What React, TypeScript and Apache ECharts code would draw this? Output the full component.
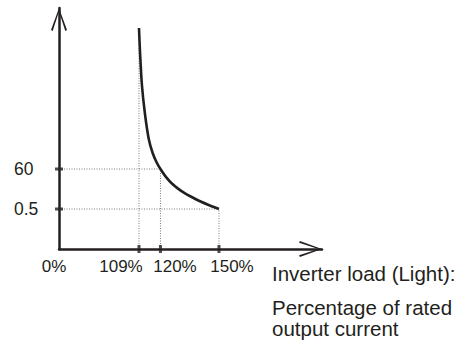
import React, { useEffect, useRef } from 'react';
import * as echarts from 'echarts';

// Inverter load axis (percentage of rated output current)
const loadMin = 68; // axis origin (drawn as 0%, broken axis)
const loadMax = 202.8;
const loadTickValues = [109, 120, 150];
const loadTickLabels = ['109%', '120%', '150%'];
const originLabel = '0%';

// Time axis (schematic levels) and its labels
const timeMax = 6.025;
const timeLevels = [1, 2];
const timeLabels = ['0.5', '60'];

// Overload curve (load %, time level)
const curveLoad = [109, 109.5, 110.5, 112, 114, 116, 118, 120, 123, 126, 129, 132, 136, 140, 145, 150];
const curveLevel = [5.525, 4.95, 4.1, 3.4, 2.75, 2.4, 2.17, 2.0, 1.79, 1.63, 1.51, 1.41, 1.3, 1.2, 1.095, 1.0];

const axisTitleFirst = 'Inverter load (Light):';
const axisTitleRest = ['Percentage of rated', 'output current'];

const INK = '#231f20';
const DOT = '#7a7a7a';
const FONT = '"Liberation Sans", Arial, sans-serif';

const chevron = 'path://M8,0 L16,22 L14.3,22.8 L8,3.5 L1.7,22.8 L0,22 Z';

export default function App() {
  const ref = useRef<HTMLDivElement>(null);
  useEffect(() => {
    if (!ref.current) return;
    const chart = echarts.init(ref.current, undefined, { renderer: 'svg' });

    const curve = curveLoad.map((x, i) => [x, curveLevel[i]]);
    const levelAt = (x: number) => curveLevel[curveLoad.indexOf(x)];
    const loadAtLevel = (y: number) => curveLoad[curveLevel.indexOf(y)];

    const dotted = { color: DOT, width: 1, type: [1, 1.5] };
    const guideSeries: any[] = [];
    loadTickValues.forEach((x) => {
      guideSeries.push({
        type: 'line',
        data: [[x, 0], [x, levelAt(x)]],
        symbol: 'none',
        lineStyle: dotted,
        z: 1,
        silent: true,
      });
    });
    timeLevels.forEach((y) => {
      guideSeries.push({
        type: 'line',
        data: [[loadMin, y], [loadAtLevel(y), y]],
        symbol: 'none',
        lineStyle: dotted,
        z: 1,
        silent: true,
      });
    });

    const xLabelShift = [-5, -18, 14.5, 13];
    const xLabelValues = [loadMin, ...loadTickValues];
    const xLabelTexts = [originLabel, ...loadTickLabels];
    const rich: Record<string, any> = {};
    xLabelValues.forEach((_, i) => {
      const s = xLabelShift[i];
      rich['l' + i] = {
        fontSize: 17,
        fontFamily: FONT,
        color: INK,
        padding: s >= 0 ? [0, 0, 0, 2 * s] : [0, -2 * s, 0, 0],
      };
    });

    const axisLine = {
      show: true,
      onZero: false,
      lineStyle: { color: INK, width: 2.5 },
      symbol: ['none', chevron],
      symbolSize: [16, 23],
      symbolOffset: [0, -11.5],
    };

    const option: any = {
      animation: false,
      grid: { left: 59, top: 8, width: 263, height: 241, containLabel: false, outerBoundsMode: 'none' },
      xAxis: {
        type: 'value',
        min: loadMin,
        max: loadMax,
        splitLine: { show: false },
        axisTick: { show: false },
        axisLine,
        axisLabel: {
          customValues: xLabelValues,
          showMinLabel: true,
          margin: 9,
          fontSize: 17,
          fontFamily: FONT,
          color: INK,
          formatter: (v: number) => {
            const i = xLabelValues.indexOf(v);
            return i >= 0 ? `{l${i}|${xLabelTexts[i]}}` : '';
          },
          rich,
        },
      },
      yAxis: {
        type: 'value',
        min: 0,
        max: timeMax,
        splitLine: { show: false },
        axisTick: { show: false },
        axisLine,
        axisLabel: {
          customValues: timeLevels,
          align: 'left',
          margin: 45,
          fontSize: 17.5,
          fontFamily: FONT,
          color: INK,
          formatter: (v: number) => {
            const i = timeLevels.indexOf(v);
            return i >= 0 ? timeLabels[i] : '';
          },
        },
      },
      series: [
        ...guideSeries,
        {
          type: 'line',
          data: curve,
          symbol: 'none',
          smooth: 0.3,
          lineStyle: { color: INK, width: 2.6 },
          z: 3,
          silent: true,
        },
        {
          type: 'scatter',
          data: loadTickValues.map((x) => [x, 0]),
          symbol: 'rect',
          symbolSize: [3, 8],
          itemStyle: { color: INK },
          clip: false,
          z: 4,
          silent: true,
        },
        {
          type: 'scatter',
          data: timeLevels.map((y) => [loadMin, y]),
          symbol: 'rect',
          symbolSize: [8, 3],
          itemStyle: { color: INK },
          clip: false,
          z: 4,
          silent: true,
        },
      ],
      graphic: [
        {
          type: 'text',
          left: 272,
          top: 263,
          style: { text: axisTitleFirst, fontSize: 20.5, fontFamily: FONT, fill: INK },
        },
        {
          type: 'text',
          left: 272,
          top: 297,
          style: { text: axisTitleRest.join('\n'), fontSize: 20.5, lineHeight: 21, fontFamily: FONT, fill: INK },
        },
      ],
    };
    chart.setOption(option);
    return () => chart.dispose();
  }, []);
  return <div ref={ref} style={{ position: 'fixed', left: 0, top: 0, width: 472, height: 345, background: '#fff' }} />;
}
